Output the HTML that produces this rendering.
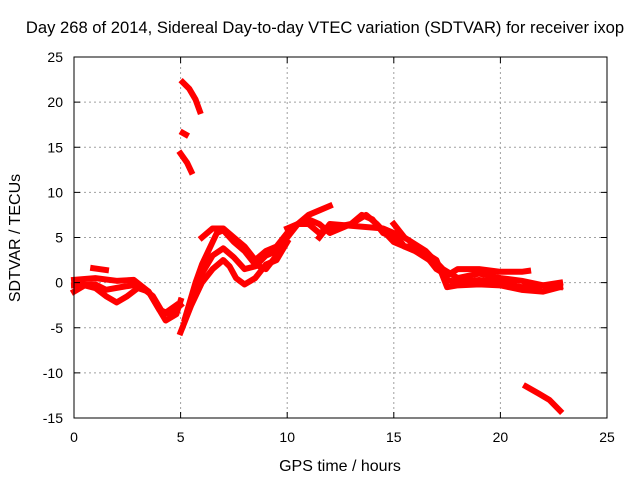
<!DOCTYPE html>
<html><head><meta charset="utf-8"><style>
body{margin:0;background:#fff}
svg text{font-family:"Liberation Sans",sans-serif;font-size:14px;fill:#000}
</style></head><body>
<svg id="chart" width="640" height="480">
<rect width="640" height="480" fill="#fff"/>
<g id="grid"></g><g id="series"></g><g id="axes"></g>
<text x="325" y="33" text-anchor="middle" style="font-size:16.6px">Day 268 of 2014, Sidereal Day-to-day VTEC variation (SDTVAR) for receiver ixop</text>
<text x="340" y="471" text-anchor="middle" style="font-size:16px">GPS time / hours</text>
<text transform="translate(20,238) rotate(-90)" text-anchor="middle" style="font-size:16px">SDTVAR / TECUs</text>
</svg>
<script>
const xTicks=[0,5,10,15,20,25];
const yTicks=[-15,-10,-5,0,5,10,15,20,25];
const track1=[[0,-1],[0.5,-0.3],[1,-0.6],[1.5,-1.5],[2,-2.2],[2.5,-1.5],[3,-0.6],[3.5,-1],[4,-3],[4.3,-4.2],[4.8,-3.5],[5,-2]];
const track2=[[0,0.3],[1,0.5],[2,0.2],[2.8,0.3],[3.5,-1],[4,-3],[4.5,-3.5],[5,-2.5]];
const track9=[[0,-0.3],[1,-0.2],[1.5,-0.8],[2.2,-0.5],[3,-0.2],[3.7,-1.5],[4.2,-3.5],[4.8,-2.5]];
const track3=[[5,-5.5],[5.5,-2.5],[6,0],[6.5,1.5],[7,2.5],[7.3,1.8],[7.6,0.5],[8,-0.2],[8.5,0.5],[9,2],[9.5,2.5],[10,4.5]];
const track10=[[5.3,-3.5],[6,1],[6.5,3],[7,3.8],[7.5,2.8],[8,1.5],[8.5,1.8],[9,3],[9.5,3.5],[10,5]];
const track4=[[5.2,-4],[5.7,0],[6,2],[6.3,3.5],[6.7,5.5],[7,5.8],[7.5,4.5],[8,3.5],[8.5,2],[9,1.5],[9.5,3],[10,5],[10.5,6.5],[11,7.5],[11.5,8],[12,8.5]];
const track5=[[6,5],[6.5,6],[7,6],[7.5,5],[8,4],[8.5,2.5],[9,3.5],[9.5,4],[10,5.5],[10.5,6.5],[11,6.5],[11.5,5.5],[12,6],[13,6.5],[13.5,7.5],[14,7],[14.5,5.5],[15,5],[15.5,4],[16,3.5],[17,2],[17.5,0.3],[18,0],[19,0.3],[20,0],[21,-0.5],[22,-0.3],[22.8,-0.5]];
const track6=[[10,6],[11,7],[11.5,6.5],[12,5.5],[13,6.5],[13.7,7.5],[14.2,6.5],[15,4.5],[16,3.5],[16.5,3],[17,1.5],[17.5,0.8],[18,1.5],[19,1.5],[20,1.2],[21,1.2],[21.3,1.3]];
const track7=[[11.5,5],[12,6.5],[14.5,6],[15,5.5],[15.5,4],[16,4],[17,2.5],[17.5,-0.5],[18,-0.3],[19,-0.2],[20,-0.3],[21,-0.8],[22,-1],[22.8,-0.5]];
const track11=[[15,6.5],[15.5,5],[16.5,3.5],[17.3,1.5],[18,0.5],[19,1],[20,0.5],[21,0.2],[22,-0.3],[22.8,0]];
const track8=[[0.9,1.6],[1.5,1.4]];
const frag1=[[5.1,22.2],[5.4,21.5],[5.7,20.3],[5.9,19]];
const frag2=[[5,14.3],[5.3,13.3],[5.5,12.3]];
const frag3=[[5.1,16.6],[5.25,16.4]];
const frag4=[[21.2,-11.5],[21.8,-12.3],[22.3,-13],[22.8,-14.2]];
const tracks=[track1,track2,track9,track3,track10,track4,track5,track6,track7,track11,track8,frag1,frag2,frag3,frag4];
const X0=74,X1=607,Y0=418,Y1=57;
const xs=v=>X0+(v-0)/25*(X1-X0);
const ys=v=>Y0-(v+15)/40*(Y0-Y1);
const NS="http://www.w3.org/2000/svg";
const g=document.getElementById('grid'),s=document.getElementById('series'),a=document.getElementById('axes');
function mk(p,tag,at){const e=document.createElementNS(NS,tag);for(const k in at)e.setAttribute(k,at[k]);p.appendChild(e);return e;}
xTicks.forEach(t=>{
 if(t>0&&t<25){const l=mk(g,'line',{x1:xs(t),x2:xs(t),y1:Y1,y2:Y0,stroke:'#a0a0a0','stroke-dasharray':'2,3'});
 
 }
 mk(a,'line',{x1:xs(t),x2:xs(t),y1:Y0,y2:Y0-6,stroke:'#000'});
 mk(a,'line',{x1:xs(t),x2:xs(t),y1:Y1,y2:Y1+6,stroke:'#000'});
 const tx=mk(a,'text',{x:xs(t),y:Y0+24,'text-anchor':'middle'});tx.textContent=t;
 
 
});
yTicks.forEach(t=>{
 if(t>-15&&t<25){const l=mk(g,'line',{x1:X0,x2:X1,y1:ys(t),y2:ys(t),stroke:'#a0a0a0','stroke-dasharray':'2,3'});
 
 }
 mk(a,'line',{x1:X0,x2:X0+6,y1:ys(t),y2:ys(t),stroke:'#000'});
 mk(a,'line',{x1:X1,x2:X1-6,y1:ys(t),y2:ys(t),stroke:'#000'});
 const tx=mk(a,'text',{x:X0-11,y:ys(t)+5,'text-anchor':'end'});tx.textContent=t;
 
 
});
const fr=mk(a,'rect',{x:X0,y:Y1,width:X1-X0,height:Y0-Y1,fill:'none',stroke:'#000'});


tracks.forEach(tr=>{
 const p=mk(s,'polyline',{points:tr.map(d=>xs(d[0])+','+ys(d[1])).join(' '),fill:'none',stroke:'#ff0000','stroke-width':6,'stroke-linejoin':'round','stroke-linecap':'square'});
 
 
});
</script>
</body></html>
